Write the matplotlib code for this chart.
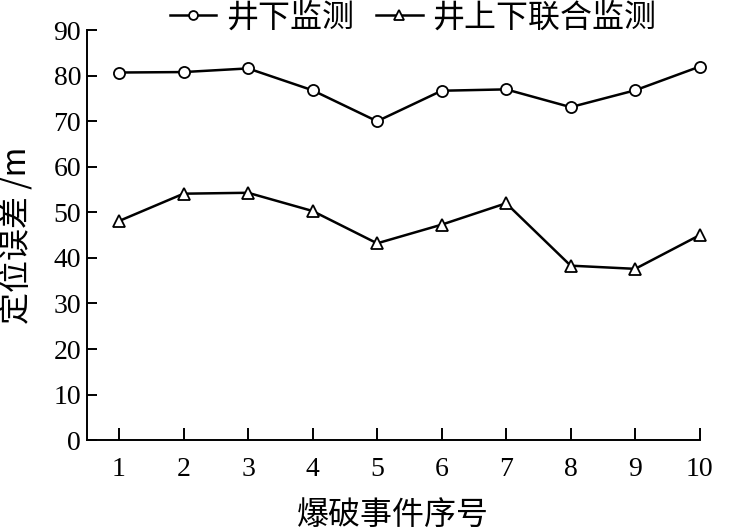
import matplotlib
matplotlib.use("Agg")
import matplotlib.pyplot as plt

# blasting event index
events = [1, 2, 3, 4, 5, 6, 7, 8, 9, 10]
# location error (m)
underground = [80.7, 80.8, 81.6, 76.8, 70.0, 76.7, 77.0, 73.1, 76.8, 82.0]
combined = [48.1, 54.1, 54.3, 50.3, 43.2, 47.3, 52.0, 38.3, 37.6, 45.0]
yticks = [0, 10, 20, 30, 40, 50, 60, 70, 80, 90]

plt.rcParams['font.family'] = ['Liberation Serif', 'Noto Sans CJK SC']

fig = plt.figure(figsize=(7.35, 5.29), dpi=100)
ax = fig.add_axes([0.118, 0.168, 0.834, 0.775])

ax.plot(events, underground, color='black', lw=1.8, marker='o', ms=8,
        mfc='white', mec='black', mew=1.3, label='井下监测', clip_on=False)
ax.plot(events, combined, color='black', lw=1.8, marker='^', ms=9,
        mfc='white', mec='black', mew=1.3, label='井上下联合监测', clip_on=False)

ax.set_xlim(0.5, 10)
ax.set_ylim(0, 90)
ax.set_xticks(events)
ax.set_yticks(yticks)
ax.spines['top'].set_visible(False)
ax.spines['right'].set_visible(False)
ax.spines['left'].set_linewidth(1.4)
ax.spines['bottom'].set_linewidth(1.4)
ax.tick_params(axis='both', direction='in', labelsize=20, width=1.4)
ax.tick_params(axis='x', length=9, pad=12)
ax.tick_params(axis='y', length=7, pad=4)

ax.set_xlabel('爆破事件序号', fontsize=23, family=['Noto Sans CJK SC'], labelpad=12)
ax.set_ylabel('定位误差 /m', fontsize=23, family=['Noto Sans CJK SC', 'Liberation Serif'], labelpad=15)

fig.legend(loc='center', bbox_to_anchor=(0.562, 0.967), ncol=2, frameon=False,
           prop={'family': 'Noto Sans CJK SC', 'size': 23}, handlelength=1.45,
           columnspacing=0.7, handletextpad=0.3, markerscale=0.8,
           borderpad=0, borderaxespad=0)

fig.savefig('out.png', dpi=100)
